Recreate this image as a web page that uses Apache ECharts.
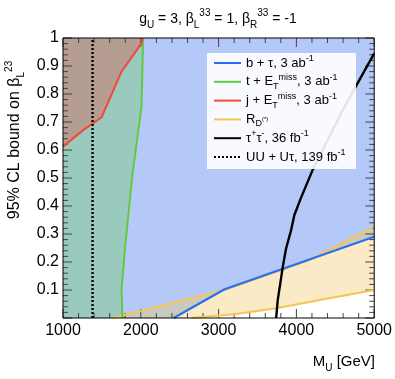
<!DOCTYPE html>
<html><head><meta charset="utf-8">
<script src="https://cdn.jsdelivr.net/npm/echarts@6/dist/echarts.min.js"></script>
<style>html,body{margin:0;padding:0;background:#fff}#c{width:395px;height:379px}</style>
</head><body><div id="c"></div>
<script>
// ---- data (M_U in GeV, beta_L^23) ----
const blueX = [2423, 3077, 5000];
const blueY = [0, 0.1025, 0.29];
const greenX = [1765, 1752, 1795, 1889, 2009, 2030];
const greenY = [0, 0.1, 0.243, 0.505, 0.755, 1];
const redX = [1000, 1260, 1496, 1752, 2009, 2025];
const redY = [0.612, 0.671, 0.717, 0.88, 0.981, 1];
const rdUpperX = [1637, 3077, 4150, 5000];
const rdUpperY = [0, 0.1, 0.205, 0.326];
const rdLowerX = [2650, 3200, 3740, 4300, 5000];
const rdLowerY = [0, 0.013, 0.035, 0.064, 0.1];
const tautauX = [3740, 3760, 3824, 3868, 3932, 3974, 4060, 4209, 4600, 5000];
const tautauY = [0, 0.064, 0.181, 0.249, 0.314, 0.368, 0.43, 0.529, 0.745, 0.945];
const uuX = [1380, 1380];
const uuY = [0, 1];
const xMin = 1000, xMax = 5000, yMin = 0, yMax = 1;
const xTicks = [1000, 2000, 3000, 4000, 5000];
const yTicks = [0, 0.1, 0.2, 0.3, 0.4, 0.5, 0.6, 0.7, 0.8, 0.9, 1];
const yTickLabels = ['', '0.1', '0.2', '0.3', '0.4', '0.5', '0.6', '0.7', '0.8', '0.9', '1'];
const minorDiv = 5;

const zip = (xs, ys) => xs.map((x, i) => [x, ys[i]]);

const FONT = 'Liberation Sans, Arial, Helvetica, sans-serif';
const C = {
  blueFill: '#b4c9f7', tealFill: '#9acabd', brownFill: '#b59d92',
  yellowFill: '#faeac6', grayFill: '#c9c9bf', white: '#ffffff',
  blue: '#2a6ef2', green: '#62c943', red: '#f24a3a', yellow: '#f5c452', black: '#000000',
  tick: '#444'
};

// polygons built from the data arrays
const polys = [
  { pts: [[xMin, 0], ...zip(blueX, blueY), [xMax, yMax], [xMin, yMax]], fill: C.blueFill },
  { pts: [...zip(rdUpperX, rdUpperY), ...zip(rdLowerX, rdLowerY).reverse()], fill: C.grayFill },
  { pts: [...zip(blueX, blueY), [xMax, 0]], fill: C.yellowFill },
  { pts: [...zip(rdLowerX, rdLowerY), [xMax, 0]], fill: C.white },
  { pts: [[xMin, 0], ...zip(greenX, greenY), [xMin, yMax]], fill: C.tealFill },
  { pts: [...zip(redX, redY), [xMin, yMax]], fill: C.brownFill }
];

const areaSeries = polys.map((p, i) => ({
  type: 'custom', name: 'area' + i, z: 1, silent: true, clip: true,
  data: [[p.pts[0][0], p.pts[0][1]]],
  renderItem: (params, api) => ({
    type: 'polygon',
    shape: { points: p.pts.map(q => api.coord(q)) },
    style: { fill: p.fill, stroke: null }
  })
}));

// ROOT-style inside ticks on all four sides (tick lengths: ~9px major, ~5px minor)
function subdivide(ticks) {
  const out = [];
  for (let i = 0; i < ticks.length - 1; i++) {
    for (let k = 1; k < minorDiv; k++) out.push(ticks[i] + (ticks[i + 1] - ticks[i]) * k / minorDiv);
  }
  return out;
}
const xMinor = subdivide(xTicks), yMinor = subdivide(yTicks);
const dyMaj = 9 / 280, dyMin = 5 / 280, dxMaj = 9 / 312 * 4000, dxMin = 5 / 312 * 4000;
const tickData = [];
const pushX = (v, d) => { tickData.push([v, yMin], [v, yMin + d], [v, '-'], [v, yMax], [v, yMax - d], [v, '-']); };
const pushY = (v, d) => { tickData.push([xMin, v], [xMin + d, v], [xMin, '-'], [xMax, v], [xMax - d, v], [xMax, '-']); };
xTicks.forEach(v => pushX(v, dyMaj)); xMinor.forEach(v => pushX(v, dyMin));
yTicks.forEach(v => pushY(v, dxMaj)); yMinor.forEach(v => pushY(v, dxMin));

const tickSeries = {
  type: 'line', name: 'ticks', data: tickData, symbol: 'none', showSymbol: false, connectNulls: false,
  z: 3, silent: true, clip: false, animation: false,
  lineStyle: { color: C.tick, width: 1 }
};
const frameSeries = {
  type: 'line', name: 'frame', data: [[xMin, yMin], [xMax, yMin], [xMax, yMax], [xMin, yMax], [xMin, yMin]],
  symbol: 'none', showSymbol: false, z: 7, silent: true, clip: false, animation: false,
  lineStyle: { color: '#000', width: 1 }
};

function lineS(name, xs, ys, color, width, type, z) {
  return {
    type: 'line', name, data: zip(xs, ys), symbol: 'circle', showSymbol: false, z: z || 4,
    lineStyle: { color, width, type: type || 'solid' }, itemStyle: { color },
    animation: false, clip: true
  };
}

const N = {
  b: 'b + τ, 3 ab-1', t: 't + Emiss, 3 ab-1', j: 'j + Emiss, 3 ab-1',
  rd: 'RD(*)', tt: 'τ+τ-, 36 fb-1', uu: 'UU + Uτ, 139 fb-1'
};
const legendFmt = {};
legendFmt[N.b] = 'b + τ, 3 ab{sup|-1}';
legendFmt[N.t] = 't + E{sub|T}{sup|miss}, 3 ab{sup|-1}';
legendFmt[N.j] = 'j + E{sub|T}{sup|miss}, 3 ab{sup|-1}';
legendFmt[N.rd] = 'R{sub|D}{subsup|(*)}';
legendFmt[N.tt] = 'τ{sup|+}τ{sup|-}, 36 fb{sup|-1}';
legendFmt[N.uu] = 'UU + Uτ, 139 fb{sup|-1}';

const richSmall = {
  sup: { fontSize: 9, verticalAlign: 'top', lineHeight: 9, fontFamily: FONT, color: '#000' },
  sub: { fontSize: 9, verticalAlign: 'bottom', lineHeight: 9, fontFamily: FONT, color: '#000' },
  subsup: { fontSize: 6, verticalAlign: 'middle', lineHeight: 9, fontFamily: FONT, color: '#000' }
};
const richBig = {
  sup: { fontSize: 10, verticalAlign: 'top', lineHeight: 10, fontFamily: FONT },
  sub: { fontSize: 10, verticalAlign: 'bottom', lineHeight: 10, fontFamily: FONT }
};

const noLine = { show: false };
const noTick = { show: false };

const chart = echarts.init(document.getElementById('c'), null, { renderer: 'canvas' });
chart.setOption({
  animation: false,
  backgroundColor: '#fff',
  textStyle: { fontFamily: FONT },
  grid: { left: 63, right: 20, top: 38, bottom: 61 },
  xAxis: [
    { type: 'value', min: xMin, max: xMax, interval: 1000, axisLine: noLine,
      axisTick: noTick, minorTick: noTick, splitLine: { show: false },
      axisLabel: { show: true, margin: 5, fontSize: 16, color: '#000', fontFamily: FONT,
        formatter: v => (xTicks.indexOf(v) >= 0 ? String(v) : '') } }
  ],
  yAxis: [
    { type: 'value', min: yMin, max: yMax, interval: 0.1, axisLine: noLine,
      axisTick: noTick, minorTick: noTick, splitLine: { show: false },
      axisLabel: { show: true, margin: 4, fontSize: 16, color: '#000', fontFamily: FONT,
        formatter: v => yTickLabels[Math.round(v * 10)] } }
  ],
  legend: {
    z: 20, orient: 'vertical', left: 207, top: 52, padding: [2, 4, 2, 6],
    itemWidth: 27, itemHeight: 14, itemGap: 0.8,
    itemStyle: { color: 'transparent', borderColor: 'transparent', borderWidth: 0 },
    data: [N.b, N.t, N.j, N.rd, N.tt, N.uu],
    formatter: n => legendFmt[n] || n,
    textStyle: { fontFamily: FONT, fontSize: 13, color: '#000', lineHeight: 18, rich: richSmall }
  },
  graphic: [
    { type: 'rect', z: 10, left: 207, top: 53, shape: { width: 149, height: 116 },
      style: { fill: 'rgba(255,255,255,0.9)' } },
    { type: 'text', z: 10, x: 218, y: 19,
      style: { text: 'g{sub|U} = 3, β{sub|L}{sup|33} = 1, β{sub|R}{sup|33} = -1', fontFamily: FONT,
        fontSize: 14, fill: '#000', align: 'center', verticalAlign: 'middle', lineHeight: 22, rich: richBig } },
    { type: 'text', z: 10, x: 15, y: 140, rotation: Math.PI / 2,
      style: { text: '95% CL bound on β{sub|L}{sup|23}', fontFamily: FONT, fontSize: 16, fill: '#000',
        align: 'center', verticalAlign: 'middle', lineHeight: 22, rich: richBig } },
    { type: 'text', z: 10, x: 375, y: 362,
      style: { text: 'M{sub|U} [GeV]', fontFamily: FONT, fontSize: 15, fill: '#000',
        align: 'right', verticalAlign: 'middle', lineHeight: 22, rich: richBig } }
  ],
  series: [
    ...areaSeries,
    tickSeries,
    lineS(N.rd, rdUpperX, rdUpperY, C.yellow, 2),
    lineS('rdLower', rdLowerX, rdLowerY, C.yellow, 2),
    lineS(N.b, blueX, blueY, C.blue, 2.2, 'solid', 5),
    lineS(N.t, greenX, greenY, C.green, 2),
    lineS(N.j, redX, redY, C.red, 2),
    lineS(N.tt, tautauX, tautauY, C.black, 2.4, 'solid', 6),
    lineS(N.uu, uuX, uuY, C.black, 2.4, [2, 2], 6),
    frameSeries
  ]
});
</script>
</body></html>
